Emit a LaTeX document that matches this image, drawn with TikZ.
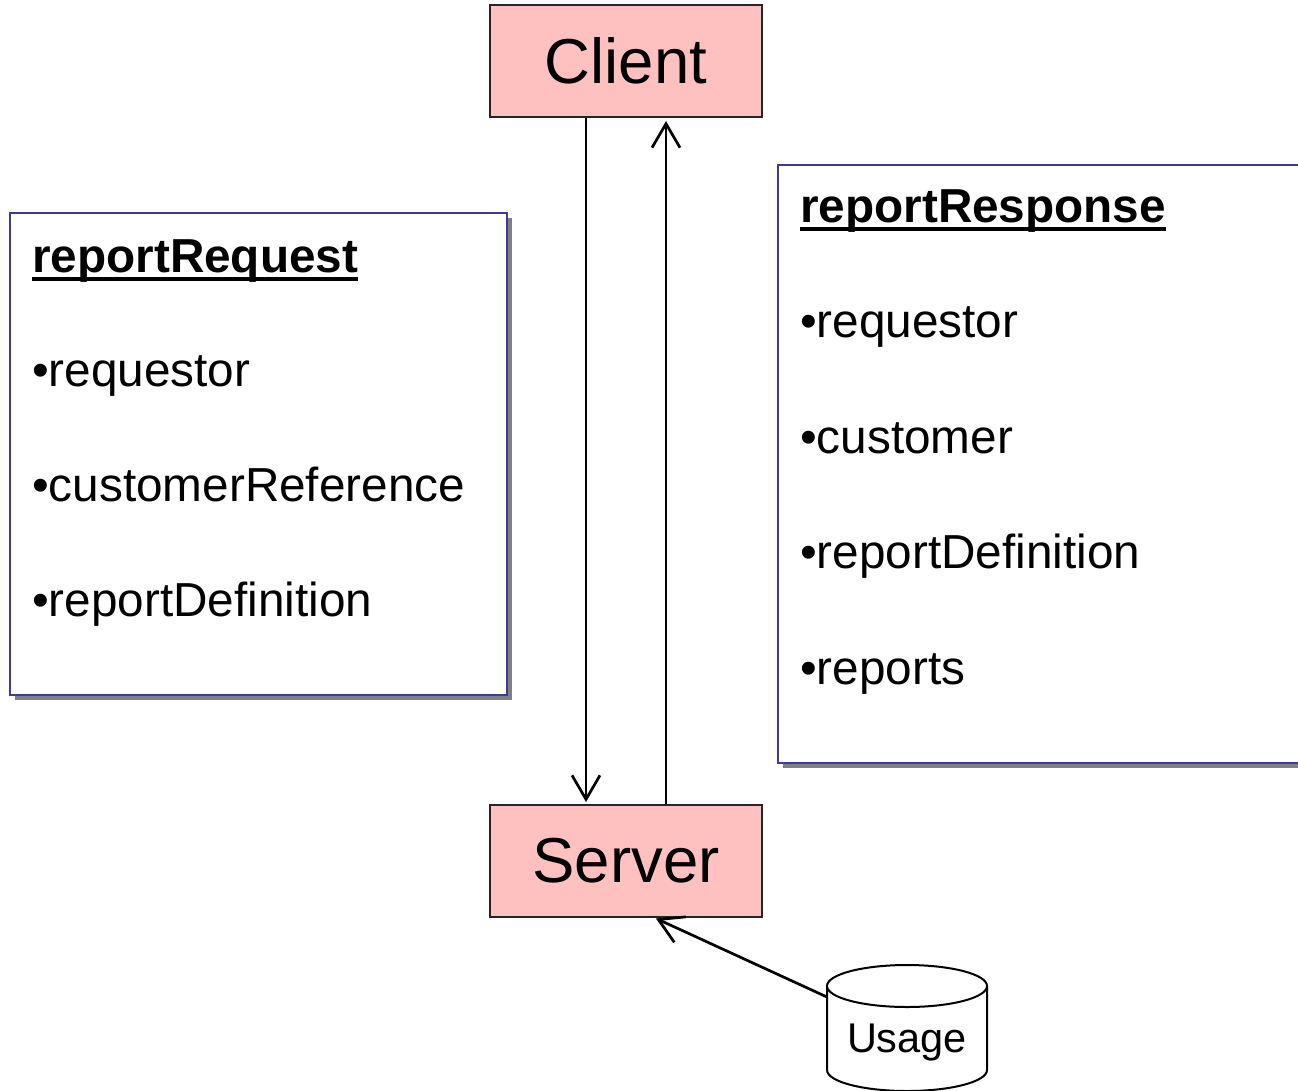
\documentclass[tikz,border=0pt]{standalone}
\usepackage{fontspec}
\setmainfont{Liberation Sans}
\usetikzlibrary{arrows.meta}
\definecolor{boxpink}{RGB}{255,192,192}
\definecolor{boxblue}{RGB}{60,60,160}
\definecolor{shadowgray}{RGB}{128,128,128}
\tikzset{
  x=1pt, y=-1pt,
  actor/.style={draw=black!85, line width=2pt, fill=boxpink, minimum width=272pt, minimum height=112pt, inner sep=0pt, font=\fontsize{63.5}{70}\selectfont},
  msgbox/.style={draw=boxblue, line width=2pt, fill=white},
  shadowbox/.style={fill=shadowgray},
  title/.style={anchor=base west, inner sep=0pt, font=\fontsize{47.7}{55}\selectfont\bfseries},
  item/.style={anchor=base west, inner sep=0pt, font=\fontsize{47.7}{55}\selectfont},
  arr/.style={line width=2.7pt, -{Straight Barb[length=24pt,width=28pt,line width=2.7pt]}},
  dbline/.style={line width=2pt, draw=black}
}
\begin{document}
\begin{tikzpicture}
\useasboundingbox (0,0) rectangle (1298,1090);
\clip (0,0) rectangle (1298,1090);
% left message box
\fill[shadowgray] (15,218) rectangle (512,700);
\draw[msgbox] (10,213) rectangle (507,695);
\node[title] (reqt) at (32,272) {reportRequest};
\draw[line width=3.5pt] ([yshift=-7pt]reqt.base west) -- ([yshift=-7pt]reqt.base east);
\node[item] (req1) at (32,386) {•requestor};
\node[item] (req2) at (32,501) {•customerReference};
\node[item] (req3) at (32,616) {•reportDefinition};
% right message box
\fill[shadowgray] (783,170) rectangle (1310,768);
\draw[msgbox] (778,165) rectangle (1310,763);
\node[title] (rest) at (800,222) {reportResponse};
\draw[line width=3.5pt] ([yshift=-7pt]rest.base west) -- ([yshift=-7pt]rest.base east);
\node[item] (res1) at (800,337) {•requestor};
\node[item] (res2) at (800,453) {•customer};
\node[item] (res3) at (800,568) {•reportDefinition};
\node[item] (res4) at (800,684) {•reports};
% actors
\node[actor] (client) at (626,61) {Client};
\node[actor] (server) at (626,861) {Server};
\draw[arr, shorten >=2pt] ([xshift=-40pt]client.south) -- ([xshift=-40pt]server.north);
\draw[arr, shorten >=3pt] ([xshift=40pt]server.north) -- ([xshift=40pt]client.south);
% cylinder
\draw[dbline, fill=white] (827,986) -- (827,1070) arc[start angle=180, end angle=360, x radius=80, y radius=-21] -- (987,986);
\draw[dbline, fill=white] (907,986) ellipse[x radius=80, y radius=21];
\node[inner sep=0pt, anchor=base, font=\fontsize{41.5}{48}\selectfont] (usage) at (907,1052) {Usage};
\coordinate (usagetop) at (827,997);
\draw[arr, shorten >=1pt] (usagetop) -- ([xshift=29pt]server.south);
\end{tikzpicture}
\end{document}
